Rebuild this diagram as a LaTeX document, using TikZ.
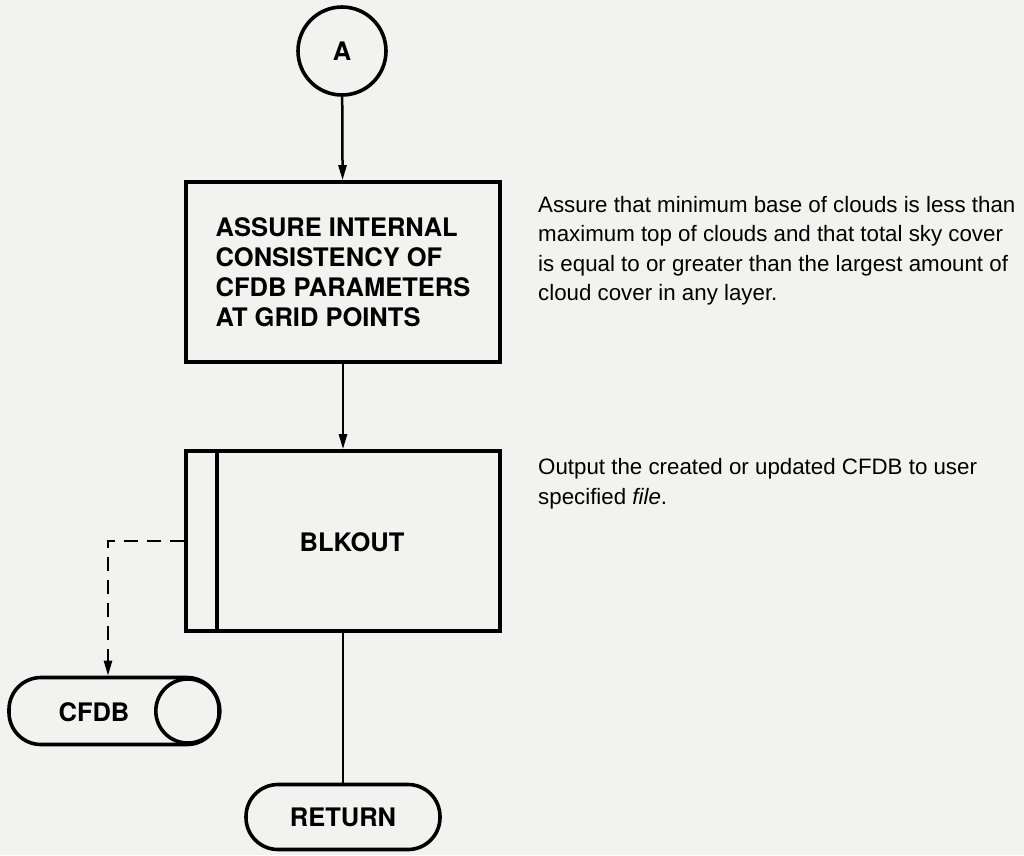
\documentclass[tikz,border=0pt]{standalone}
\usepackage{fontspec}
\setmainfont{Liberation Sans}
\newfontfamily\heros{TeX Gyre Heros}
\usetikzlibrary{arrows.meta}
\definecolor{paper}{RGB}{242,242,240}
\tikzset{
  shapeline/.style={draw=black, line width=3.6pt},
  procbox/.style={shapeline, rectangle, minimum width=314pt, minimum height=180pt, inner sep=0pt},
  termbox/.style={shapeline, rectangle, rounded corners=32pt, inner sep=0pt},
  label/.style={font=\heros\bfseries\fontsize{25.5}{30}\selectfont, inner sep=0pt},
  note/.style={font=\fontsize{22.3}{29.5}\selectfont, align=left, anchor=base west, inner sep=0pt},
  flow/.style={line width=2.5pt, -{Triangle[length=15pt,width=8pt]}},
  plain/.style={line width=2.5pt},
  dashflow/.style={line width=2.5pt, dash pattern=on 14pt off 9pt, -{Triangle[length=15pt,width=8pt]}}
}
\begin{document}
\begin{tikzpicture}[x=1pt,y=-1pt]
  % page
  \fill[paper] (0,0) rectangle (1024,855);
  \useasboundingbox (0,0) rectangle (1024,855);

  % connector A
  \node[shapeline, circle, minimum size=88pt, inner sep=0pt, label] (conA) at (342,51) {A};

  % consistency step
  \node[procbox, label, align=left] (check) at (343,272)
    {ASSURE INTERNAL\\CONSISTENCY OF\\CFDB PARAMETERS\\AT GRID POINTS};

  % BLKOUT subroutine box
  \node[procbox] (blk) at (343,541) {};
  \draw[shapeline] ([xshift=33pt]blk.north west) -- ([xshift=33pt]blk.south west);
  \node[label] (blkname) at (352,542) {BLKOUT};

  % CFDB file
  \node[termbox, minimum width=210pt, minimum height=67pt] (cfdb) at (114,711) {};
  \coordinate (cfdbend) at ([xshift=-33pt]cfdb.east);
  \draw[shapeline] (cfdbend) circle (32pt);
  \node[label] (cfdbname) at (94,712) {CFDB};

  % return terminal
  \node[termbox, minimum width=194pt, minimum height=65pt, label] (ret) at (343,817) {RETURN};

  % connectors
  \draw[flow] (conA) -- (check);
  \draw[flow] (check) -- (blk);
  \draw[plain] (blk) -- (ret);
  \coordinate (cfdbin) at ([xshift=-6pt]cfdb.north);
  \draw[dashflow] (blk.west) -| (cfdbin);

  % notes (anchored at the baseline of their last line)
  \node[note] (note1) at (538,300.5)
    {Assure that minimum base of clouds is less than\\
     maximum top of clouds and that total sky cover\\
     is equal to or greater than the largest amount of\\
     cloud cover in any layer.};
  \node[note] (note2) at (538,504)
    {Output the created or updated CFDB to user\\
     specified \textit{file}.};
\end{tikzpicture}
\end{document}
